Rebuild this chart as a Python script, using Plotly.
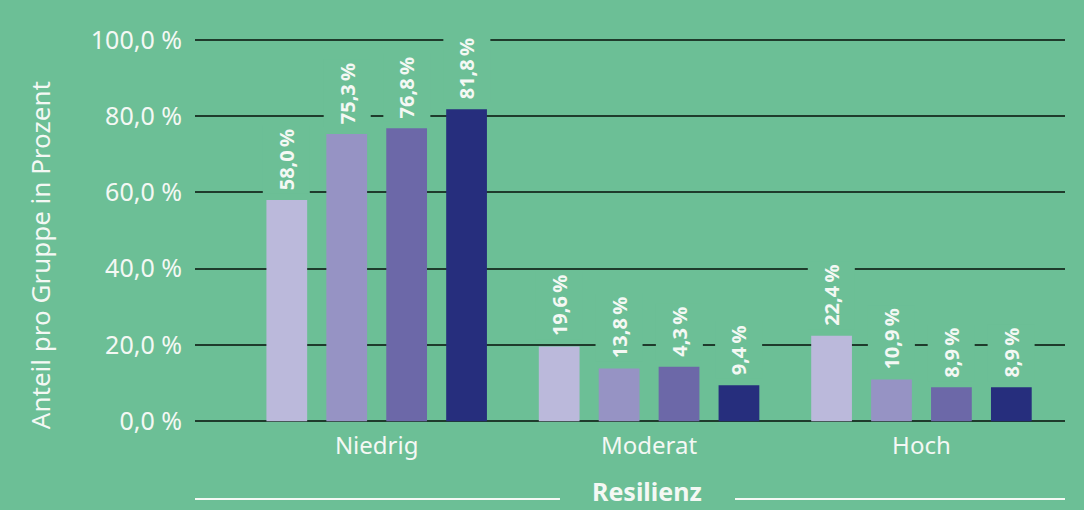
import plotly.graph_objects as go

# -----------------------
#  Daten
# -----------------------

kategorien = ["Niedrig", "Moderat", "Hoch"]

gruppe_1 = [58.0, 19.6, 22.4]
gruppe_2 = [75.3, 13.8, 10.9]
gruppe_3 = [76.8, 14.3, 8.9]
gruppe_4 = [81.8, 9.4, 8.9]

# Beschriftungen wie im Original (die mittlere Säule bei "Moderat" ist mit 4,3 % beschriftet)
label_1 = ["58,0\u2009%", "19,6\u2009%", "22,4\u2009%"]
label_2 = ["75,3\u2009%", "13,8\u2009%", "10,9\u2009%"]
label_3 = ["76,8\u2009%", "4,3\u2009%", "8,9\u2009%"]
label_4 = ["81,8\u2009%", "9,4\u2009%", "8,9\u2009%"]

y_ticks = [0, 20, 40, 60, 80, 100]
y_ticktext = ["0,0 %", "20,0 %", "40,0 %", "60,0 %", "80,0 %", "100,0 %"]

# -----------------------
#  Stil
# -----------------------

fundo = "#6cbf96"
cores = ["#bbb9db", "#9693c4", "#6c68a8", "#262e7d"]
branco = "#f4f8f4"
grade = "#1f3b2c"
fonte = "Noto Sans"

serien = [gruppe_1, gruppe_2, gruppe_3, gruppe_4]
labels = [label_1, label_2, label_3, label_4]

fig = go.Figure()
for i, (werte, cor) in enumerate(zip(serien, cores)):
    fig.add_trace(
        go.Bar(
            x = list(range(len(kategorien))),
            y = werte,
            name = f"Gruppe {i + 1}",
            marker = dict(color = cor, line = dict(width = 0)),
            hoverinfo = "skip"
        )
    )

# --- Werte-Beschriftung, vertikal, mit Hintergrund (unterbricht die Gitterlinien)
slot = 0.22
for i, (werte, texte) in enumerate(zip(serien, labels)):
    offset = (i - 1.5) * slot
    for j, (v, t) in enumerate(zip(werte, texte)):
        fig.add_annotation(
            x = j + offset,
            y = v,
            text = f"<b>{t}</b>",
            textangle = -90,
            showarrow = False,
            xanchor = "center",
            yanchor = "bottom",
            yshift = 6,
            height = 40,
            bgcolor = fundo,
            borderpad = 3,
            font = dict(family = fonte, size = 20, color = branco)
        )

# --- Achsentitel
fig.add_annotation(
    xref = "paper", yref = "paper",
    x = -0.178, y = 0.437,
    xanchor = "center", yanchor = "middle",
    text = "Anteil pro Gruppe in Prozent",
    textangle = -90,
    showarrow = False,
    font = dict(family = fonte, size = 26, color = branco)
)

fig.add_annotation(
    xref = "paper", yref = "paper",
    x = 0.52, y = -0.2185,
    xanchor = "center", yanchor = "bottom",
    text = "<b>Resilienz</b>",
    showarrow = False,
    font = dict(family = fonte, size = 25, color = branco)
)

for x0, x1 in [(0, 0.4195), (0.6207, 1)]:
    fig.add_shape(
        type = "line",
        xref = "paper", yref = "paper",
        x0 = x0, x1 = x1, y0 = -0.19, y1 = -0.19,
        line = dict(color = branco, width = 2)
    )

fig.update_layout(
    width = 1084,
    height = 510,
    paper_bgcolor = fundo,
    plot_bgcolor = fundo,
    margin = dict(l = 195, r = 19, t = 36, b = 85),
    barmode = "group",
    bargap = 0.12,
    bargroupgap = 0.32,
    showlegend = False,
    font = dict(family = fonte, color = branco)
)

fig.update_xaxes(
    range = [-0.667, 2.527],
    tickvals = list(range(len(kategorien))),
    ticktext = kategorien,
    tickfont = dict(family = fonte, size = 24, color = branco),
    showgrid = False,
    zeroline = False,
    showline = False,
    ticks = "",
    ticklabelstandoff = 4
)

fig.update_yaxes(
    range = [-1, 101],
    tickvals = y_ticks,
    ticktext = y_ticktext,
    tickfont = dict(family = fonte, size = 25, color = branco),
    showgrid = True,
    gridcolor = grade,
    gridwidth = 2,
    zeroline = False,
    showline = False,
    ticks = "",
    ticklabelstandoff = 12
)

fig.write_html(
    "out.html",
    config = {"displayModeBar": False},
    post_script = "document.body.style.margin='0';document.body.style.background='#6cbf96';"
)
